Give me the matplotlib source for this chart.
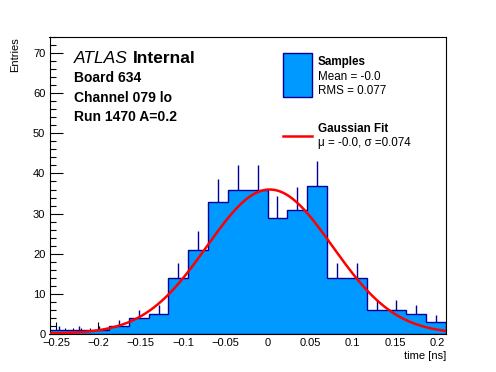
import numpy as np
import matplotlib
matplotlib.use("Agg")
import matplotlib.pyplot as plt
from matplotlib.patches import Rectangle
from matplotlib.lines import Line2D
from matplotlib.ticker import MultipleLocator

plt.rcParams['font.family'] = ['Liberation Sans', 'DejaVu Sans']

# histogram of sample times (20 bins)
x_lo, x_hi = -0.2577, 0.2099
counts = np.array([1, 1, 1, 2, 4, 5, 14, 21, 33, 36,
                   36, 29, 31, 37, 14, 14, 6, 6, 5, 3])

# gaussian fit parameters
fit_amp = 36.0
fit_mu = 0.002
fit_sigma = 0.074

edges = np.linspace(x_lo, x_hi, len(counts) + 1)
centres = 0.5 * (edges[:-1] + edges[1:])

W, H = 496, 372
fig = plt.figure(figsize=(W / 100, H / 100), dpi=100)
ax = fig.add_axes([49.5 / W, 1 - 333.7 / H, (446 - 49.5) / W, (333.7 - 37.3) / H])

fill_col = '#0099ff'
edge_col = '#000099'

# error bars sit under the fill, only the upper halves show
ax.errorbar(centres, counts, yerr=np.sqrt(counts), fmt='none',
            ecolor=edge_col, elinewidth=1, capsize=0, zorder=1)
ax.hist(centres, bins=edges, weights=counts, histtype='stepfilled',
        facecolor=fill_col, edgecolor=edge_col, linewidth=1, zorder=2)

xf = np.linspace(x_lo, x_hi, 300)
yf = fit_amp * np.exp(-0.5 * ((xf - fit_mu) / fit_sigma) ** 2)
ax.plot(xf, yf, color='red', lw=1.8, zorder=3)

ax.set_xlim(x_lo, x_hi)
ax.set_ylim(0, 74)
ax.xaxis.set_major_locator(MultipleLocator(0.05))
ax.xaxis.set_minor_locator(MultipleLocator(0.01))
ax.yaxis.set_major_locator(MultipleLocator(10))
ax.yaxis.set_minor_locator(MultipleLocator(2))
ax.tick_params(which='both', direction='in', top=False, right=False,
               labelsize=8, width=0.8, pad=3)
ax.tick_params(which='major', length=9)
ax.tick_params(which='minor', length=4.5)
ax.xaxis.set_major_formatter(plt.FuncFormatter(lambda v, p: ('%g' % round(v, 3)).replace('-', '\u2212')))
for s in ax.spines.values():
    s.set_linewidth(0.8)

ax.set_xlabel('time [ns]', fontsize=8, loc='right', labelpad=2)
ax.set_ylabel('Entries', fontsize=8, loc='top', labelpad=9)

def ftext(x, y, s, **kw):
    fig.text(x / W, 1 - y / H, s, va='baseline', ha='left', **kw)

ftext(73.5, 63, 'ATLAS', fontsize=12.5, style='italic')
ftext(133, 63, 'Internal', fontsize=12.5, weight='bold')
ftext(74, 82, 'Board 634', fontsize=10, weight='bold')
ftext(74, 101.5, 'Channel 079 lo', fontsize=10, weight='bold')
ftext(74, 121, 'Run 1470 A=0.2', fontsize=10, weight='bold')

# legend
fig.add_artist(Rectangle((283.3 / W, 1 - 96.7 / H), 28.4 / W, 43.4 / H,
                         transform=fig.transFigure, facecolor=fill_col,
                         edgecolor=edge_col, lw=1))
fig.add_artist(Line2D([283.3 / W, 311.7 / W], [1 - 136 / H, 1 - 136 / H],
                      transform=fig.transFigure, color='red', lw=1.8))
ftext(317.5, 65, 'Samples', fontsize=8.4, weight='bold')
ftext(317.5, 79.5, 'Mean = -0.0', fontsize=8.4)
ftext(317.5, 93.5, 'RMS = 0.077', fontsize=8.4)
ftext(317.5, 132.5, 'Gaussian Fit', fontsize=8.4, weight='bold')
ftext(317.5, 146, '\u03bc = -0.0, \u03c3 =0.074', fontsize=8.4)

fig.savefig('out.png', dpi=100)
